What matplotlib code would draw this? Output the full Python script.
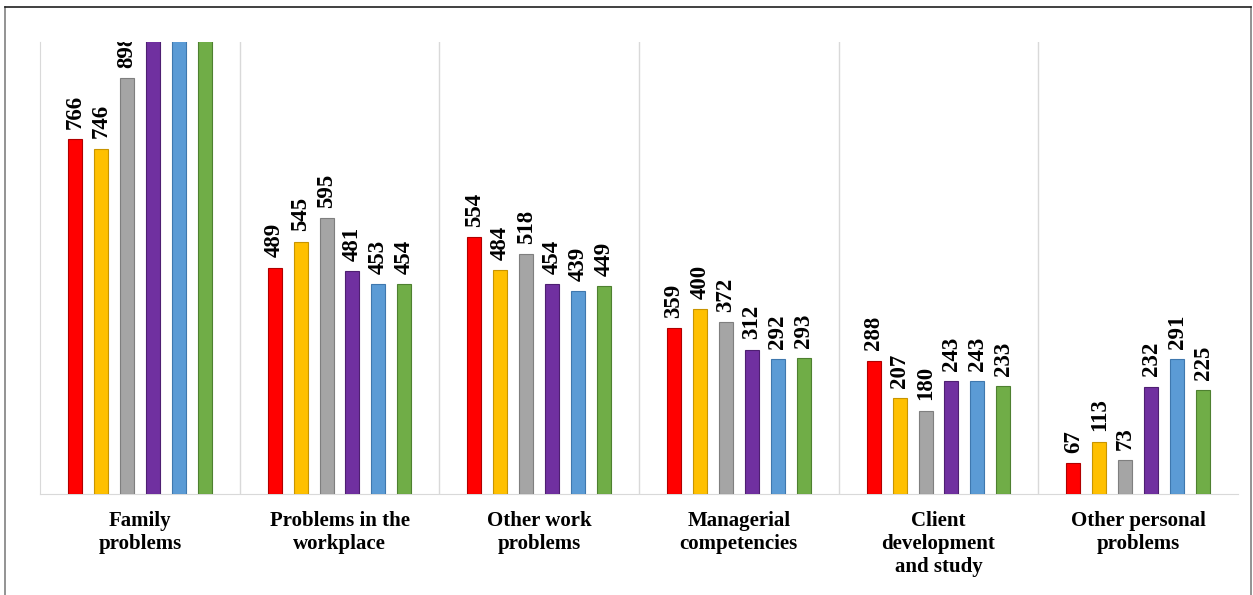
import numpy as np
import matplotlib.pyplot as plt
from matplotlib.lines import Line2D

categories = ["Family\nproblems", "Problems in the\nworkplace", "Other work\nproblems",
              "Managerial\ncompetencies", "Client\ndevelopment\nand study", "Other personal\nproblems"]

# six series per category (red, yellow, gray, purple, blue, green)
s_red = [766, 489, 554, 359, 288, 67]
s_yellow = [746, 545, 484, 400, 207, 113]
s_gray = [898, 595, 518, 372, 180, 73]
s_purple = [1000, 481, 454, 312, 243, 232]
s_blue = [1010, 453, 439, 292, 243, 291]
s_green = [1020, 454, 449, 293, 233, 225]

series = [s_red, s_yellow, s_gray, s_purple, s_blue, s_green]
colors = ["#FF0000", "#FFC000", "#A5A5A5", "#7030A0", "#5B9BD5", "#70AD47"]
edges = ["#B00000", "#C89400", "#7F7F7F", "#4E1F72", "#3F78AE", "#4E8030"]

serif = ["Liberation Serif", "DejaVu Serif"]
ymax = 976

fig = plt.figure(figsize=(12.53, 5.95), dpi=100)
ax = fig.add_axes([40 / 1253, 1 - 494 / 595, 1198 / 1253, 452 / 595])

x = np.arange(len(categories))
step = 0.13
width = 0.07
for k, vals in enumerate(series):
    pos = x + (k - 2.5) * step
    ax.bar(pos, vals, width, color=colors[k], edgecolor=edges[k], linewidth=0.8, zorder=3)
    for xi, v in zip(pos, vals):
        if v >= ymax:
            continue  # bar runs off the top, its label is not shown
        ax.text(xi, v + 22, str(v), rotation=90, ha="center", va="bottom",
                fontsize=16.5, fontweight="bold", family=serif, clip_on=True, zorder=4)

ax.set_xlim(-0.5, len(categories) - 0.5)
ax.set_ylim(0, ymax)

# separators between groups
for b in np.arange(0.5, len(categories) - 1, 1.0):
    ax.axvline(b, color="#D9D9D9", linewidth=1, zorder=1)

for s in ["top", "right"]:
    ax.spines[s].set_visible(False)
ax.spines["left"].set_color("#D9D9D9")
ax.spines["bottom"].set_color("#D9D9D9")
ax.set_yticks([])
ax.set_xticks([])

for xi, lab in zip(x, categories):
    ax.text(xi, -36, lab, ha="center", va="top", fontsize=15, fontweight="bold",
            family=serif, linespacing=1.2)

# outer frame of the picture
fig.add_artist(Line2D([5 / 1253, 5 / 1253], [0, 1 - 7 / 595], color="#808080", linewidth=1.2))
fig.add_artist(Line2D([1251 / 1253, 1251 / 1253], [0, 1 - 7 / 595], color="#808080", linewidth=1.2))
fig.add_artist(Line2D([5 / 1253, 1251 / 1253], [1 - 7 / 595, 1 - 7 / 595], color="#202020", linewidth=1.2))

fig.savefig("out.png", dpi=100)
